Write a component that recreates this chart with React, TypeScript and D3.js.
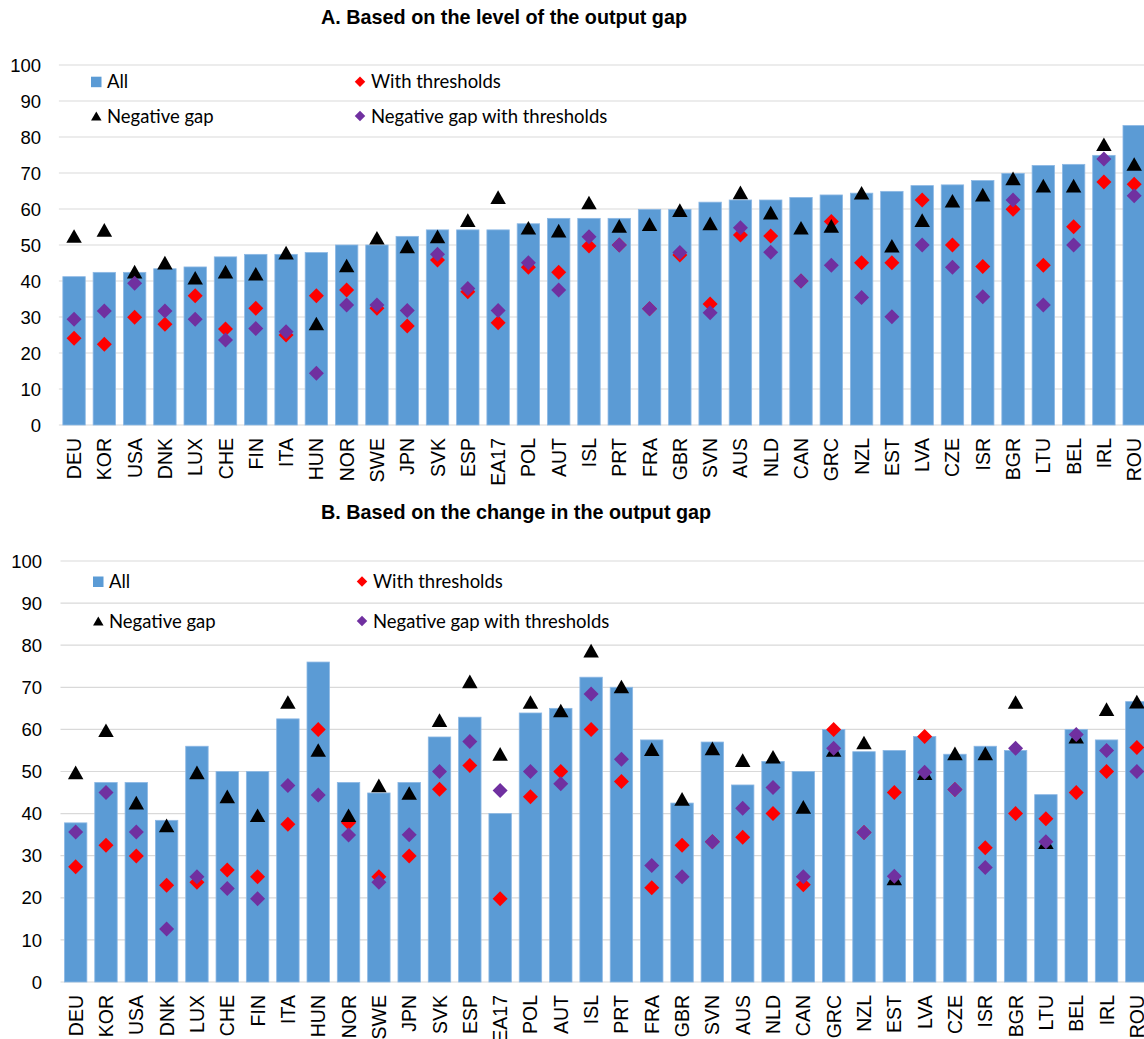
import React from "react";
import * as d3 from "d3";

const WIDTH = 1144;
const HEIGHT = 1039;

const countries = [
  "DEU", "KOR", "USA", "DNK", "LUX", "CHE", "FIN", "ITA", "HUN", "NOR", "SWE", "JPN",
  "SVK", "ESP", "EA17", "POL", "AUT", "ISL", "PRT", "FRA", "GBR", "SVN", "AUS", "NLD",
  "CAN", "GRC", "NZL", "EST", "LVA", "CZE", "ISR", "BGR", "LTU", "BEL", "IRL", "ROU",
];

const yTicks = [0, 10, 20, 30, 40, 50, 60, 70, 80, 90, 100];

const seriesNames = ["All", "With thresholds", "Negative gap", "Negative gap with thresholds"];

// A. level of the output gap
const levelAll = [
  41.2, 42.4, 42.4, 43.4, 43.9, 46.7, 47.4, 47.4, 47.9, 50, 50, 52.4,
  54.2, 54.2, 54.2, 55.9, 57.4, 57.4, 57.4, 59.9, 59.9, 61.9, 62.5, 62.5,
  63.2, 63.9, 64.4, 64.9, 66.5, 66.7, 67.9, 69.9, 72.1, 72.4, 74.9, 83.2,
];
const levelThresholds = [
  24.1, 22.4, 29.9, 28, 35.9, 26.7, 32.4, 25, 35.9, 37.5, 32.4, 27.5,
  45.8, 37, 28.4, 43.8, 42.4, 49.7, 50, 32.3, 47.2, 33.6, 52.8, 52.5,
  40, 56.5, 45.1, 45.1, 62.5, 50, 44, 59.9, 44.4, 55.1, 67.5, 66.9,
];
const levelNegative = [
  52.5, 54.2, 42.6, 45.1, 40.9, 42.6, 42, 47.9, 28.2, 44.3, 52, 49.6,
  52.4, 56.9, 63.3, 54.8, 54, 61.8, 55.3, 55.8, 59.7, 56, 64.6, 59,
  54.8, 55.3, 64.5, 49.8, 56.9, 62.3, 64, 68.5, 66.5, 66.5, 78, 72.5,
];
const levelNegativeThresholds = [
  29.4, 31.7, 39.4, 31.7, 29.4, 23.6, 26.8, 25.9, 14.4, 33.3, 33.3, 31.8,
  47.4, 37.9, 31.8, 45.1, 37.5, 52.3, 50, 32.3, 47.9, 31.2, 54.8, 48,
  40, 44.4, 35.4, 30.1, 50, 43.8, 35.6, 62.5, 33.3, 50, 73.9, 63.7,
];

// B. change in the output gap
const changeAll = [
  37.8, 47.4, 47.4, 38.4, 56, 50, 50, 62.5, 76, 47.4, 44.9, 47.4,
  58.2, 62.9, 40, 63.9, 65, 72.4, 70, 57.5, 42.5, 57, 46.8, 52.4,
  50, 60, 54.7, 55, 58.3, 54.1, 56, 55, 44.5, 60, 57.5, 66.6,
];
const changeThresholds = [
  27.4, 32.5, 29.9, 23, 23.7, 26.6, 25, 37.5, 60, 37.8, 25, 29.9,
  45.8, 51.4, 19.8, 44, 50, 60, 47.6, 22.4, 32.5, 33.3, 34.4, 40,
  23.1, 60, 35.5, 45, 58.3, 45.7, 31.9, 40, 38.8, 45, 50, 55.7,
];
const changeNegative = [
  49.8, 59.8, 42.6, 37.2, 49.8, 44.1, 39.6, 66.5, 55.1, 39.6, 46.7, 44.9,
  62.2, 71.4, 54.2, 66.5, 64.5, 78.7, 70.2, 55.3, 43.5, 55.5, 52.7, 53.5,
  41.6, 55.1, 56.9, 24.6, 49.6, 54.3, 54.3, 66.5, 33.2, 58.3, 64.8, 66.6,
];
const changeNegativeThresholds = [
  35.6, 45, 35.6, 12.6, 25, 22.2, 19.8, 46.7, 44.4, 34.9, 23.7, 35,
  50, 57.1, 45.5, 50, 47.1, 68.4, 52.9, 27.7, 25, 33.3, 41.3, 46.2,
  25, 55.5, 35.5, 25.1, 49.8, 45.7, 27.2, 55.5, 33.3, 58.8, 55, 50,
];

const BLUE = "#5B9BD5";
const RED = "#FF0000";
const PURPLE = "#7030A0";

// excel style markers, centred on their bounding box
const diamond = {
  draw(ctx: any, size: number) {
    const r = Math.sqrt(size) / 2;
    ctx.moveTo(0, -r);
    ctx.lineTo(r, 0);
    ctx.lineTo(0, r);
    ctx.lineTo(-r, 0);
    ctx.closePath();
  },
};
const triangle = {
  draw(ctx: any, size: number) {
    const w = Math.sqrt(size);
    const h = w * 0.88;
    ctx.moveTo(0, -h / 2);
    ctx.lineTo(w / 2, h / 2);
    ctx.lineTo(-w / 2, h / 2);
    ctx.closePath();
  },
};

const diamondPath = d3.symbol(diamond, 15 * 15)();
const trianglePath = d3.symbol(triangle, 15.5 * 15.5)();
const diamondSmall = d3.symbol(diamond, 10.5 * 10.5)();
const triangleSmall = d3.symbol(triangle, 10.5 * 10.5)();

const tickFont = "'Liberation Sans', Arial, sans-serif";
const legendFont = "Lato, 'Open Sans', sans-serif";

function Panel({ title, all, thr, neg, negThr, g }: any) {
  const x = d3
    .scaleBand()
    .domain(countries)
    .range([g.left, g.left + countries.length * g.step])
    .paddingInner(0.26)
    .paddingOuter(0.13);
  const y = d3.scaleLinear().domain([0, 100]).range([g.bottom, g.top]);
  const cx = (i: number) => (x(countries[i]) as number) + x.bandwidth() / 2;

  return (
    <g>
      <text
        x={g.titleX}
        y={g.titleY}
        fontFamily={tickFont}
        fontWeight="bold"
        fontSize={19.8}
        fill="#000"
      >
        {title}
      </text>

      {yTicks.map((t) => (
        <g key={t}>
          <line x1={g.left} x2={WIDTH} y1={y(t)} y2={y(t)} stroke="#D9D9D9" strokeWidth={1.2} />
          <text
            x={g.tickX}
            y={y(t)}
            dy="0.36em"
            textAnchor="end"
            fontFamily={tickFont}
            fontSize={18.5}
            fill="#000"
          >
            {t}
          </text>
        </g>
      ))}

      {all.map((v: number, i: number) => (
        <rect
          key={countries[i]}
          x={x(countries[i])}
          y={y(v)}
          width={x.bandwidth()}
          height={y(0) - y(v)}
          fill={BLUE}
          stroke="#8DB8E4"
          strokeWidth={0.8}
        />
      ))}

      {thr.map((v: number, i: number) => (
        <path key={"r" + i} d={diamondPath!} transform={`translate(${cx(i)},${y(v)})`} fill={RED} />
      ))}
      {neg.map((v: number, i: number) => (
        <path key={"t" + i} d={trianglePath!} transform={`translate(${cx(i)},${y(v)})`} fill="#000" />
      ))}
      {negThr.map((v: number, i: number) => (
        <path key={"p" + i} d={diamondPath!} transform={`translate(${cx(i)},${y(v)})`} fill={PURPLE} />
      ))}

      {countries.map((c, i) => (
        <text
          key={"l" + c}
          transform={`translate(${cx(i)},${g.labelTop}) rotate(-90)`}
          dy="0.36em"
          textAnchor="end"
          fontFamily={tickFont}
          fontSize={19.5}
          fill="#000"
        >
          {c}
        </text>
      ))}

      {/* legend */}
      <g fontFamily={legendFont} fontSize={18.5} fill="#000">
        <rect x={g.legX} y={g.legY1 - 5} width={10.5} height={10.5} fill={BLUE} />
        <text x={g.legX + 16} y={g.legY1} dy="0.36em">{seriesNames[0]}</text>
        <path d={diamondSmall!} transform={`translate(${g.legX2},${g.legY1})`} fill={RED} />
        <text x={g.legX2 + 11} y={g.legY1} dy="0.36em">{seriesNames[1]}</text>
        <path d={triangleSmall!} transform={`translate(${g.legX + 5.3},${g.legY2})`} fill="#000" />
        <text x={g.legX + 16} y={g.legY2} dy="0.36em">{seriesNames[2]}</text>
        <path d={diamondSmall!} transform={`translate(${g.legX2},${g.legY2})`} fill={PURPLE} />
        <text x={g.legX2 + 11} y={g.legY2} dy="0.36em">{seriesNames[3]}</text>
      </g>
    </g>
  );
}

export default function App() {
  const geomA = {
    left: 58.9, step: 30.29, top: 65, bottom: 425, tickX: 41, labelTop: 438,
    titleX: 321, titleY: 24, legX: 91, legX2: 360, legY1: 81.7, legY2: 116,
  };
  const geomB = {
    left: 60.5, step: 30.32, top: 561, bottom: 982, tickX: 42, labelTop: 995,
    titleX: 321, titleY: 519, legX: 93, legX2: 362, legY1: 581.5, legY2: 621,
  };
  return (
    <svg
      width={WIDTH}
      height={HEIGHT}
      style={{ position: "absolute", left: 0, top: 0, background: "#fff" }}
    >
      <rect width={WIDTH} height={HEIGHT} fill="#fff" />
      <Panel
        title="A. Based on the level of the output gap"
        all={levelAll}
        thr={levelThresholds}
        neg={levelNegative}
        negThr={levelNegativeThresholds}
        g={geomA}
      />
      <Panel
        title="B. Based on the change in the output gap"
        all={changeAll}
        thr={changeThresholds}
        neg={changeNegative}
        negThr={changeNegativeThresholds}
        g={geomB}
      />
    </svg>
  );
}
